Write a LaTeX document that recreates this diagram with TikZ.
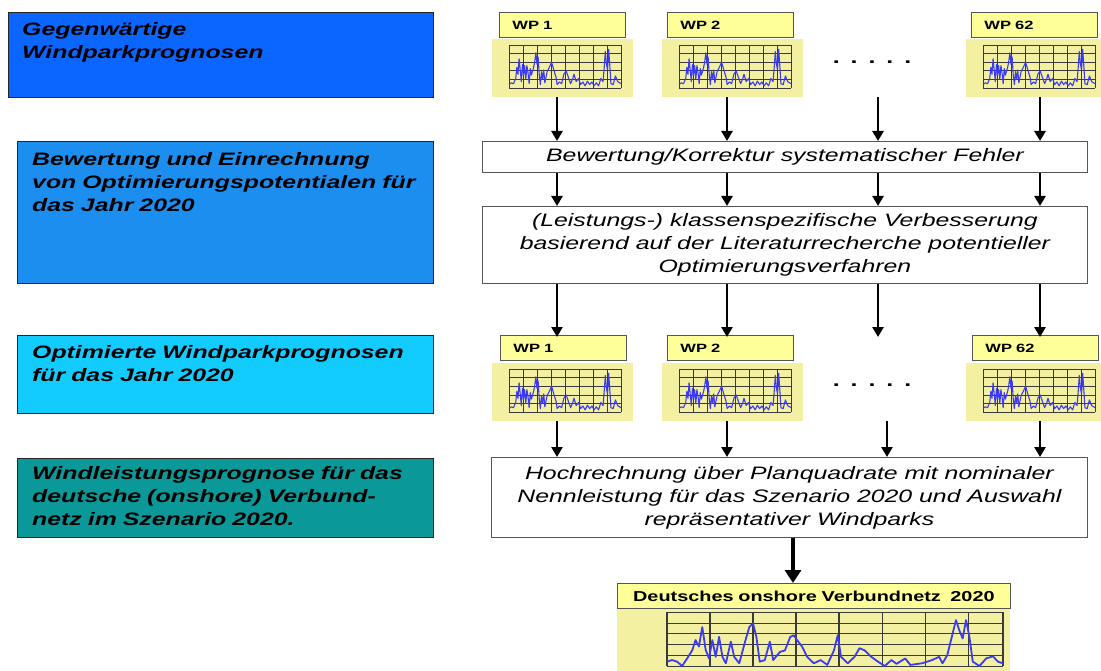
\documentclass[tikz,border=0pt]{standalone}
\usepackage{fontspec}
\setmainfont{Liberation Sans}
\newfontfamily\diagfont[FakeStretch=1.38]{Liberation Sans}
\usetikzlibrary{arrows.meta, positioning, calc}
\definecolor{PhaseBlue}{HTML}{0A66FF}
\definecolor{PhaseSky}{HTML}{1C8EF0}
\definecolor{PhaseCyan}{HTML}{12CCFF}
\definecolor{PhaseTeal}{HTML}{0A9898}
\definecolor{LabelYellow}{HTML}{FFFF99}
\definecolor{ChartYellow}{HTML}{F4F0A2}
\definecolor{CurveBlue}{HTML}{3B3BF5}
\definecolor{GridGray}{HTML}{3A3A3A}
\definecolor{FrameGray}{HTML}{555555}

\newcommand{\wpcurve}{(0,.08) -- (.02,.12) -- (.04,.10) -- (.06,.22) -- (.07,.48) -- (.08,.32)
  -- (.09,.68) -- (.10,.42) -- (.11,.15) -- (.12,.55) -- (.13,.30) -- (.14,.52) -- (.15,.20)
  -- (.16,.52) -- (.17,.35) -- (.18,.10) -- (.19,.45) -- (.20,.30) -- (.22,.48) -- (.23,.62)
  -- (.24,.82) -- (.25,.55) -- (.26,.72) -- (.27,.30) -- (.28,.08) -- (.29,.38) -- (.30,.20)
  -- (.31,.42) -- (.32,.12) -- (.34,.38) -- (.36,.48) -- (.38,.60) -- (.40,.42) -- (.42,.25)
  -- (.43,.08) -- (.45,.14) -- (.47,.10) -- (.49,.32) -- (.51,.40) -- (.53,.25) -- (.55,.10)
  -- (.57,.22) -- (.58,.32) -- (.60,.15) -- (.62,.22) -- (.64,.08) -- (.66,.14) -- (.68,.05)
  -- (.70,.16) -- (.72,.08) -- (.74,.14) -- (.76,.05) -- (.78,.12) -- (.80,.05) -- (.82,.22)
  -- (.84,.15) -- (.85,.48) -- (.86,.85) -- (.87,.55) -- (.88,.42) -- (.89,.90) -- (.90,.52)
  -- (.91,.10) -- (.93,.08) -- (.95,.28) -- (.97,.15) -- (1,.10)}
\newcommand{\netcurve}{(0,.08) -- (.015,.11) -- (.03,.08) -- (.045,0) -- (.06,.14) -- (.075,.29)
  -- (.085,.48) -- (.095,.36) -- (.105,.72) -- (.115,.30) -- (.125,.14) -- (.135,.48)
  -- (.145,.17) -- (.155,.54) -- (.165,.17) -- (.175,.05) -- (.19,.45) -- (.20,.17)
  -- (.215,.05) -- (.235,.51) -- (.245,.72) -- (.256,.79) -- (.266,.54) -- (.276,.08)
  -- (.291,.11) -- (.306,.45) -- (.316,.11) -- (.336,.26) -- (.351,.29) -- (.367,.54)
  -- (.377,.57) -- (.387,.48) -- (.402,.36) -- (.417,.17) -- (.437,.05) -- (.457,.11)
  -- (.477,.02) -- (.497,.29) -- (.508,.57) -- (.518,.17) -- (.538,.05) -- (.558,.17)
  -- (.573,.33) -- (.588,.29) -- (.608,.17) -- (.628,.08) -- (.648,0) -- (.668,.11)
  -- (.683,.04) -- (.709,.14) -- (.724,.02) -- (.759,.05) -- (.789,.11) -- (.81,.17)
  -- (.82,.05) -- (.834,.20) -- (.85,.60) -- (.86,.85) -- (.87,.66) -- (.88,.51)
  -- (.89,.85) -- (.90,.54) -- (.91,.08) -- (.93,0) -- (.95,.14) -- (.97,.18)
  -- (.985,.08) -- (1,.05)}

\tikzset{
  phase/.style={draw=black!85, line width=0.9pt, anchor=north west},
  phasetext/.style={inner sep=0pt, anchor=north west, text width=405pt, align=left,
    font=\diagfont\bfseries\itshape\fontsize{18}{23}\selectfont},
  stepbox/.style={draw=FrameGray, line width=0.9pt, fill=white, anchor=north west,
    align=center, inner sep=0pt,
    font=\diagfont\itshape\fontsize{18}{23}\selectfont},
  wplabel/.style={draw=FrameGray, line width=0.8pt, fill=LabelYellow, anchor=north west,
    minimum width=126pt, minimum height=25pt, inner ysep=0pt, inner xsep=13pt,
    text width=100pt, align=left, font=\diagfont\bfseries\fontsize{12}{14}\selectfont},
  chartbg/.style={fill=ChartYellow, inner sep=0pt, anchor=north west},
  gridline/.style={draw=GridGray, line width=0.6pt},
  curve/.style={draw=CurveBlue, line width=1.1pt, line join=round},
  dotrow/.style={font=\diagfont\bfseries\fontsize{18}{20}\selectfont, inner sep=0pt},
  flow/.style={-{Triangle[length=10pt,width=11pt]}, line width=2.8pt},
  bigflow/.style={-{Triangle[length=13pt,width=16pt]}, line width=4.5pt},
  pics/windchart/.style={code={
    \node[chartbg, minimum width=141pt, minimum height=58pt] (-bg) at (0,0) {};
    \begin{scope}[shift={(17,49)}, x=112pt, y=43pt]
      \foreach \i in {0,...,8} \draw[gridline] (\i/8,0) -- (\i/8,1);
      \foreach \j in {0,...,5} \draw[gridline] (0,\j/5) -- (1,\j/5);
      \draw[curve] \wpcurve;
    \end{scope}
  }},
  pics/netchart/.style={code={
    \node[chartbg, minimum width=393pt, minimum height=70pt] (-bg) at (0,0) {};
    \begin{scope}[shift={(50,57)}, x=336pt, y=54pt]
      \foreach \i in {0,...,7} \draw[gridline, line width=1.1pt] (\i*0.128,0) -- (\i*0.128,1);
      \draw[gridline, line width=1.1pt] (1,0) -- (1,1);
      \foreach \j in {0,...,5} \draw[gridline] (0,\j/5) -- (1,\j/5);
      \draw[curve, line width=1.8pt] \netcurve;
    \end{scope}
  }}
}

\begin{document}
\begin{tikzpicture}[x=1pt, y=-1pt]
  \useasboundingbox (0,0) rectangle (1101,671);

  % left column
  \node[phase, fill=PhaseBlue, minimum width=425pt, minimum height=85pt] (g1) at (8,12) {};
  \node[phasetext, below right=10pt and 14pt of g1.north west] (g1t)
    {Gegenwärtige\\Windparkprognosen};
  \node[phase, fill=PhaseSky, minimum width=416pt, minimum height=142pt] (g2) at (17,141) {};
  \node[phasetext, below right=11pt and 15pt of g2.north west] (g2t)
    {Bewertung und Einrechnung\\von Optimierungspotentialen für\\das Jahr 2020};
  \node[phase, fill=PhaseCyan, minimum width=416pt, minimum height=78pt] (g3) at (17,335) {};
  \node[phasetext, below right=10pt and 15pt of g3.north west] (g3t)
    {Optimierte Windparkprognosen\\für das Jahr 2020};
  \node[phase, fill=PhaseTeal, minimum width=416pt, minimum height=79pt] (g4) at (17,458) {};
  \node[phasetext, below right=8pt and 15pt of g4.north west] (g4t)
    {Windleistungsprognose für das\\deutsche (onshore) Verbund-\\netz im Szenario 2020.};

  % current forecasts
  \node[wplabel] (wp1a) at (499,12) {WP 1};
  \node[wplabel] (wp2a) at (667,12) {WP 2};
  \node[wplabel] (wp62a) at (971,12) {WP 62};
  \pic (c1a) at (492,39) {windchart};
  \pic (c2a) at (662,39) {windchart};
  \pic (c62a) at (966,39) {windchart};
  \node[dotrow] (dots1) at (872,62) {.\hspace{11pt}.\hspace{11pt}.\hspace{11pt}.\hspace{11pt}.};

  \node[stepbox, minimum width=605pt, minimum height=31pt] (korr) at (482,141)
    {Bewertung/Korrektur systematischer Fehler};
  \node[stepbox, minimum width=605pt, minimum height=77pt] (klass) at (482,206)
    {(Leistungs-) klassenspezifische Verbesserung\\basierend auf der Literaturrecherche potentieller\\Optimierungsverfahren};

  % optimised forecasts
  \node[wplabel] (wp1b) at (500,335) {WP 1};
  \node[wplabel] (wp2b) at (667,335) {WP 2};
  \node[wplabel] (wp62b) at (972,335) {WP 62};
  \pic (c1b) at (492,363) {windchart};
  \pic (c2b) at (662,363) {windchart};
  \pic (c62b) at (966,363) {windchart};
  \node[dotrow] (dots2) at (872,385) {.\hspace{11pt}.\hspace{11pt}.\hspace{11pt}.\hspace{11pt}.};

  \node[stepbox, minimum width=596pt, minimum height=80pt] (hoch) at (491,457)
    {Hochrechnung über Planquadrate mit nominaler\\Nennleistung für das Szenario 2020 und Auswahl\\repräsentativer Windparks};

  \node[wplabel, minimum width=393pt, text width=367pt, align=center,
    font=\diagfont\bfseries\fontsize{14.4}{16}\selectfont] (netz) at (617,583)
    {Deutsches onshore Verbundnetz~~2020};
  \pic (cnetz) at (617,609) {netchart};

  % column positions
  \coordinate (colA) at (557,0);
  \coordinate (colB) at (727,0);
  \coordinate (colC) at (878,0);
  \coordinate (colCC) at (887,0);
  \coordinate (colD) at (1040,0);
  \coordinate (colE) at (793,0);

  \foreach \col in {colA,colB,colC,colD} {
    \draw[flow] (c1a-bg.south -| \col) -- (korr.north -| \col);
    \draw[flow] (korr.south -| \col) -- (klass.north -| \col);
    \draw[flow] (klass.south -| \col) -- ([yshift=-2pt]wp1b.north -| \col);
  }
  \foreach \col in {colA,colB,colCC,colD}
    \draw[flow] (c1b-bg.south -| \col) -- (hoch.north -| \col);
  \draw[bigflow] (hoch.south -| colE) -- (netz.north -| colE);
\end{tikzpicture}
\end{document}
